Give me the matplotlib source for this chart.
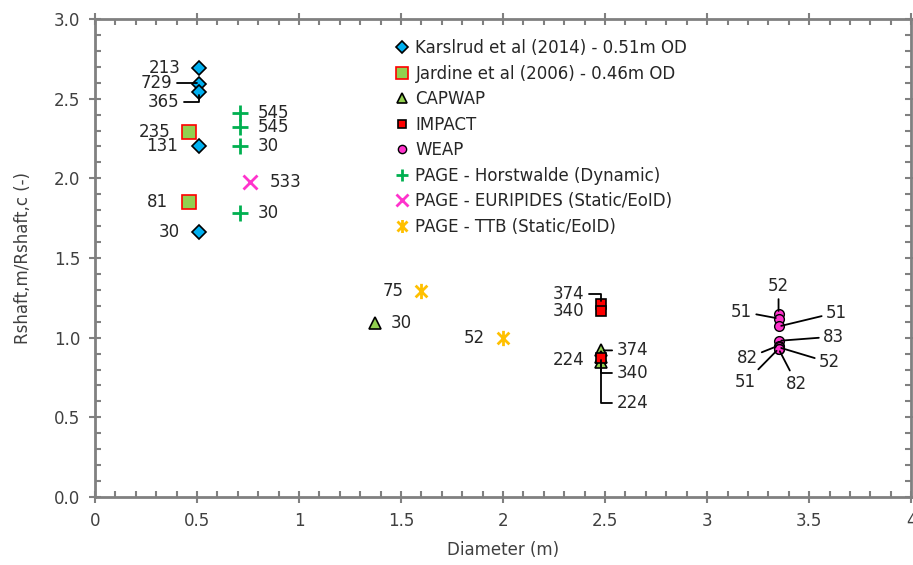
import matplotlib.pyplot as plt
from matplotlib.path import Path
from matplotlib.ticker import MultipleLocator, FormatStrFormatter, FuncFormatter

plt.rcParams['font.family'] = ['DejaVu Sans']

# Karlsrud et al (2014) - 0.51m OD
kars_d = [0.51, 0.51, 0.51, 0.51, 0.51]
kars_r = [2.69, 2.59, 2.54, 2.20, 1.66]
kars_lab = ['213', '729', '365', '131', '30']

# Jardine et al (2006) - 0.46m OD
jard_d = [0.46, 0.46]
jard_r = [2.29, 1.85]
jard_lab = ['235', '81']

# CAPWAP
capw_d = [1.37, 2.48, 2.48, 2.48]
capw_r = [1.09, 0.92, 0.88, 0.85]
capw_lab = ['30', '374', '340', '224']

# IMPACT
imp_d = [2.48, 2.48, 2.48]
imp_r = [1.21, 1.165, 0.87]
imp_lab = ['374', '340', '224']

# WEAP
weap_d = [3.35, 3.35, 3.35, 3.35, 3.35, 3.35, 3.35, 3.35]
weap_r = [1.15, 1.12, 1.07, 0.98, 0.95, 0.94, 0.93, 0.93]
weap_lab = ['52', '51', '51', '83', '82', '52', '51', '82']

# PAGE - Horstwalde (Dynamic)
hors_d = [0.71, 0.71, 0.71, 0.71]
hors_r = [2.41, 2.32, 2.20, 1.78]
hors_lab = ['545', '545', '30', '30']

# PAGE - EURIPIDES (Static/EoID)
euri_d = [0.76]
euri_r = [1.98]
euri_lab = ['533']

# PAGE - TTB (Static/EoID)
ttb_d = [1.60, 2.00]
ttb_r = [1.29, 1.00]
ttb_lab = ['75', '52']

# excel-style star marker: x with a vertical bar
star = Path([(-1, -1), (1, 1), (-1, 1), (1, -1), (0, -1.3), (0, 1.3)],
            [Path.MOVETO, Path.LINETO, Path.MOVETO, Path.LINETO, Path.MOVETO, Path.LINETO])

grey = '#808080'
txt = '#262626'

fig = plt.figure(figsize=(9.13, 5.65), dpi=100)
ax = fig.add_axes([0.104, 0.1204, 0.894, 0.846])

ax.plot(kars_d, kars_r, ls='none', marker='D', ms=7, mfc='#00B0F0', mec='black', mew=1.2,
        label='Karslrud et al (2014) - 0.51m OD')
ax.plot(jard_d, jard_r, ls='none', marker='s', ms=10, mfc='#92D050', mec='#FF0000', mew=1.2,
        label='Jardine et al (2006) - 0.46m OD')
ax.plot(capw_d, capw_r, ls='none', marker='^', ms=8, mfc='#92D050', mec='black', mew=1.2,
        label='CAPWAP')
ax.plot(imp_d, imp_r, ls='none', marker='s', ms=6.5, mfc='#FF0000', mec='black', mew=1.2,
        label='IMPACT')
ax.plot(weap_d, weap_r, ls='none', marker='o', ms=7, mfc='#FF33CC', mec='black', mew=1.0,
        label='WEAP')
ax.plot(hors_d, hors_r, ls='none', marker='+', ms=11, mew=2, color='#00B050',
        label='PAGE - Horstwalde (Dynamic)')
ax.plot(euri_d, euri_r, ls='none', marker='x', ms=10, mew=2, color='#FF33CC',
        label='PAGE - EURIPIDES (Static/EoID)')
ax.plot(ttb_d, ttb_r, ls='none', marker=star, ms=11, mew=2, color='#FFC000',
        label='PAGE - TTB (Static/EoID)')

elbow = 'angle,angleA=0,angleB=90,rad=0'
straight = 'arc3'


def label_points(xs, ys, labs, offs, leads, has):
    for x, y, t, (dx, dy), ld, h in zip(xs, ys, labs, offs, leads, has):
        kw = {}
        if ld:
            kw['arrowprops'] = dict(arrowstyle='-', color='black', lw=1.3,
                                    shrinkA=1, shrinkB=2, connectionstyle=ld)
        ax.annotate(t, (x, y), xytext=(dx, dy), textcoords='offset points',
                    ha=h, va='center', fontsize=12, color=txt, **kw)


label_points(kars_d, kars_r, kars_lab,
             [(-13, 0), (-19, 1), (-14, -7), (-15, 0), (-14, 0)],
             [None, elbow, elbow, None, None], ['right'] * 5)
label_points(jard_d, jard_r, jard_lab, [(-13, 0), (-15, 0)], [None, None], ['right'] * 2)
label_points(capw_d, capw_r, capw_lab,
             [(12, 0), (11, 0), (11, -12), (11, -30)],
             [None, straight, elbow, elbow], ['left'] * 4)
label_points(imp_d, imp_r, imp_lab,
             [(-12, 7), (-12, 0), (-12, -1)],
             [elbow, None, None], ['right'] * 3)
label_points(weap_d, weap_r, weap_lab,
             [(0, 20), (-19, 5), (34, 10), (32, 3), (-15, -9), (29, -11), (-16, -24), (13, -25)],
             [straight] * 8,
             ['center', 'right', 'left', 'left', 'right', 'left', 'right', 'center'])
label_points(hors_d, hors_r, hors_lab, [(13, 0)] * 4, [None] * 4, ['left'] * 4)
label_points(euri_d, euri_r, euri_lab, [(14, 0)], [None], ['left'])
label_points(ttb_d, ttb_r, ttb_lab, [(-13, 0), (-13, 0)], [None, None], ['right'] * 2)

ax.set_xlim(0, 4)
ax.set_ylim(0, 3)
ax.xaxis.set_major_locator(MultipleLocator(0.5))
ax.xaxis.set_minor_locator(MultipleLocator(0.1))
ax.yaxis.set_major_locator(MultipleLocator(0.5))
ax.yaxis.set_minor_locator(MultipleLocator(0.1))
ax.xaxis.set_major_formatter(FuncFormatter(lambda v, p: '%g' % v))
ax.yaxis.set_major_formatter(FormatStrFormatter('%.1f'))

for s in ax.spines.values():
    s.set_color(grey)
    s.set_linewidth(2)
ax.tick_params(which='major', direction='inout', length=9, width=1.5, color=grey,
               labelsize=12, labelcolor='#404040', pad=6, top=True, right=True)
ax.tick_params(which='minor', direction='in', length=4, width=1.5, color=grey,
               top=True, right=True)

ax.set_xlabel('Diameter (m)', fontsize=12, color='#404040', labelpad=8)
ax.set_ylabel('Rshaft,m/Rshaft,c (-)', fontsize=12, color='#404040', labelpad=16)

ax.legend(loc='upper left', bbox_to_anchor=(0.358, 0.975), frameon=False, fontsize=12,
          handlelength=0.8, handletextpad=0.4, labelspacing=0.45, borderpad=0,
          markerscale=0.85, labelcolor=txt)

fig.savefig('out.png', dpi=100)
